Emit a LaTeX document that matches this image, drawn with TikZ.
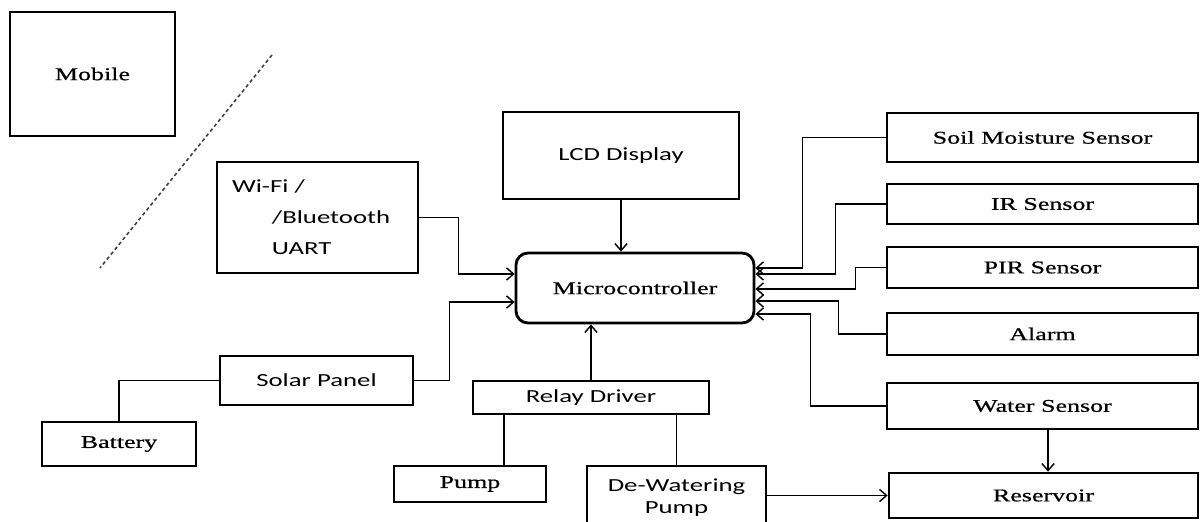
\documentclass[tikz,border=0pt]{standalone}
\usepackage{fontspec}
\newfontfamily\serfnt[FakeStretch=1.45,FakeBold=0.6]{Liberation Serif}
\newfontfamily\sansfnt[FakeStretch=1.45]{Carlito}
\usetikzlibrary{arrows.meta,calc}
\begin{document}
\begin{tikzpicture}[x=0.02cm, y=-0.02cm, >={Straight Barb[length=4pt,width=7pt]},
  blk/.style={draw, line width=1.6pt, inner sep=0pt, text=black},
  sbox/.style={blk, font=\serfnt\fontsize{10.2}{12}\selectfont},
  cbox/.style={blk, font=\sansfnt\fontsize{10.5}{13}\selectfont},
  conn/.style={line width=0.8pt}]
  \useasboundingbox (0,0) rectangle (1200,521);
  \node[sbox, minimum width=165*0.02cm, minimum height=124*0.02cm] (mobile) at (92.5,74) {Mobile};
  \draw[dashed, line width=0.9pt, dash pattern=on 2pt off 1.6pt, black!75] (272,55) -- (100,268);
  \node[cbox, align=left, text width=171*0.02cm, inner xsep=15*0.02cm, minimum height=111*0.02cm,
    font=\sansfnt\fontsize{10.5}{17.6}\selectfont] (wifi) at (317.5,217.5)
    {Wi-Fi /\\\hspace*{0.8cm}/Bluetooth\\\hspace*{0.8cm}UART};
  \node[cbox, minimum width=236*0.02cm, minimum height=87*0.02cm] (lcd) at (621,155.5) {LCD Display};
  \node[sbox, rounded corners=0.24cm, minimum width=238*0.02cm, minimum height=70*0.02cm] (micro) at (635,288) {Microcontroller};
  \node[sbox, minimum width=311*0.02cm, minimum height=49*0.02cm] (soil) at (1042.5,137.5) {Soil Moisture Sensor};
  \node[sbox, minimum width=311*0.02cm, minimum height=40*0.02cm] (ir) at (1042.5,204) {IR Sensor};
  \node[sbox, minimum width=311*0.02cm, minimum height=41*0.02cm] (pir) at (1042.5,267.5) {PIR Sensor};
  \node[sbox, minimum width=311*0.02cm, minimum height=42*0.02cm] (alarm) at (1042.5,334) {Alarm};
  \node[sbox, minimum width=311*0.02cm, minimum height=46*0.02cm] (water) at (1042.5,406) {Water Sensor};
  \node[sbox, minimum width=309*0.02cm, minimum height=45*0.02cm] (res) at (1043.5,495.5) {Reservoir};
  \node[cbox, minimum width=236*0.02cm, minimum height=33*0.02cm] (relay) at (591,397.5) {Relay Driver};
  \node[sbox, minimum width=152*0.02cm, minimum height=36*0.02cm] (pump) at (470,484) {Pump};
  \node[cbox, align=center, minimum width=179*0.02cm, minimum height=64*0.02cm,
    font=\sansfnt\fontsize{10.5}{12.5}\selectfont] (dw) at (676.5,498) {De-Watering\\Pump};
  \node[cbox, minimum width=193*0.02cm, minimum height=49*0.02cm] (solar) at (316.5,380.5) {Solar Panel};
  \node[sbox, minimum width=154*0.02cm, minimum height=44*0.02cm] (battery) at (119,444) {Battery};
  \draw[conn, ->] (wifi.east) -- ++(39,0) |- (micro.west |- 0,274);
  \draw[conn, ->] (solar.east) -- ++(35,0) |- (micro.west |- 0,302);
  \draw[conn] (solar.west) -| (battery.north);
  \draw[conn, ->] (lcd.south) -- (lcd.south |- micro.north);
  \draw[conn, ->] (relay.north) -- (relay.north |- micro.south);
  \draw[conn] (relay.south -| 504,0) -- (pump.north -| 504,0);
  \draw[conn] (dw.north) -- (dw.north |- relay.south);
  \draw[conn, ->] (dw.east |- res.west) -- (res.west);
  \draw[conn, ->] (water.south -| 1048,0) -- (res.north -| 1048,0);
  \draw[conn, ->] (soil.west) -- ++(-83,0) |- (micro.east |- 0,268);
  \draw[conn, ->] (ir.west) -- ++(-50,0) |- (micro.east |- 0,274);
  \draw[conn, ->] (pir.west) -- ++(-30,0) |- (micro.east |- 0,289);
  \draw[conn, ->] (alarm.west) -- ++(-47,0) |- (micro.east |- 0,301);
  \draw[conn, ->] (water.west) -- ++(-75,0) |- (micro.east |- 0,314);
\end{tikzpicture}
\end{document}
